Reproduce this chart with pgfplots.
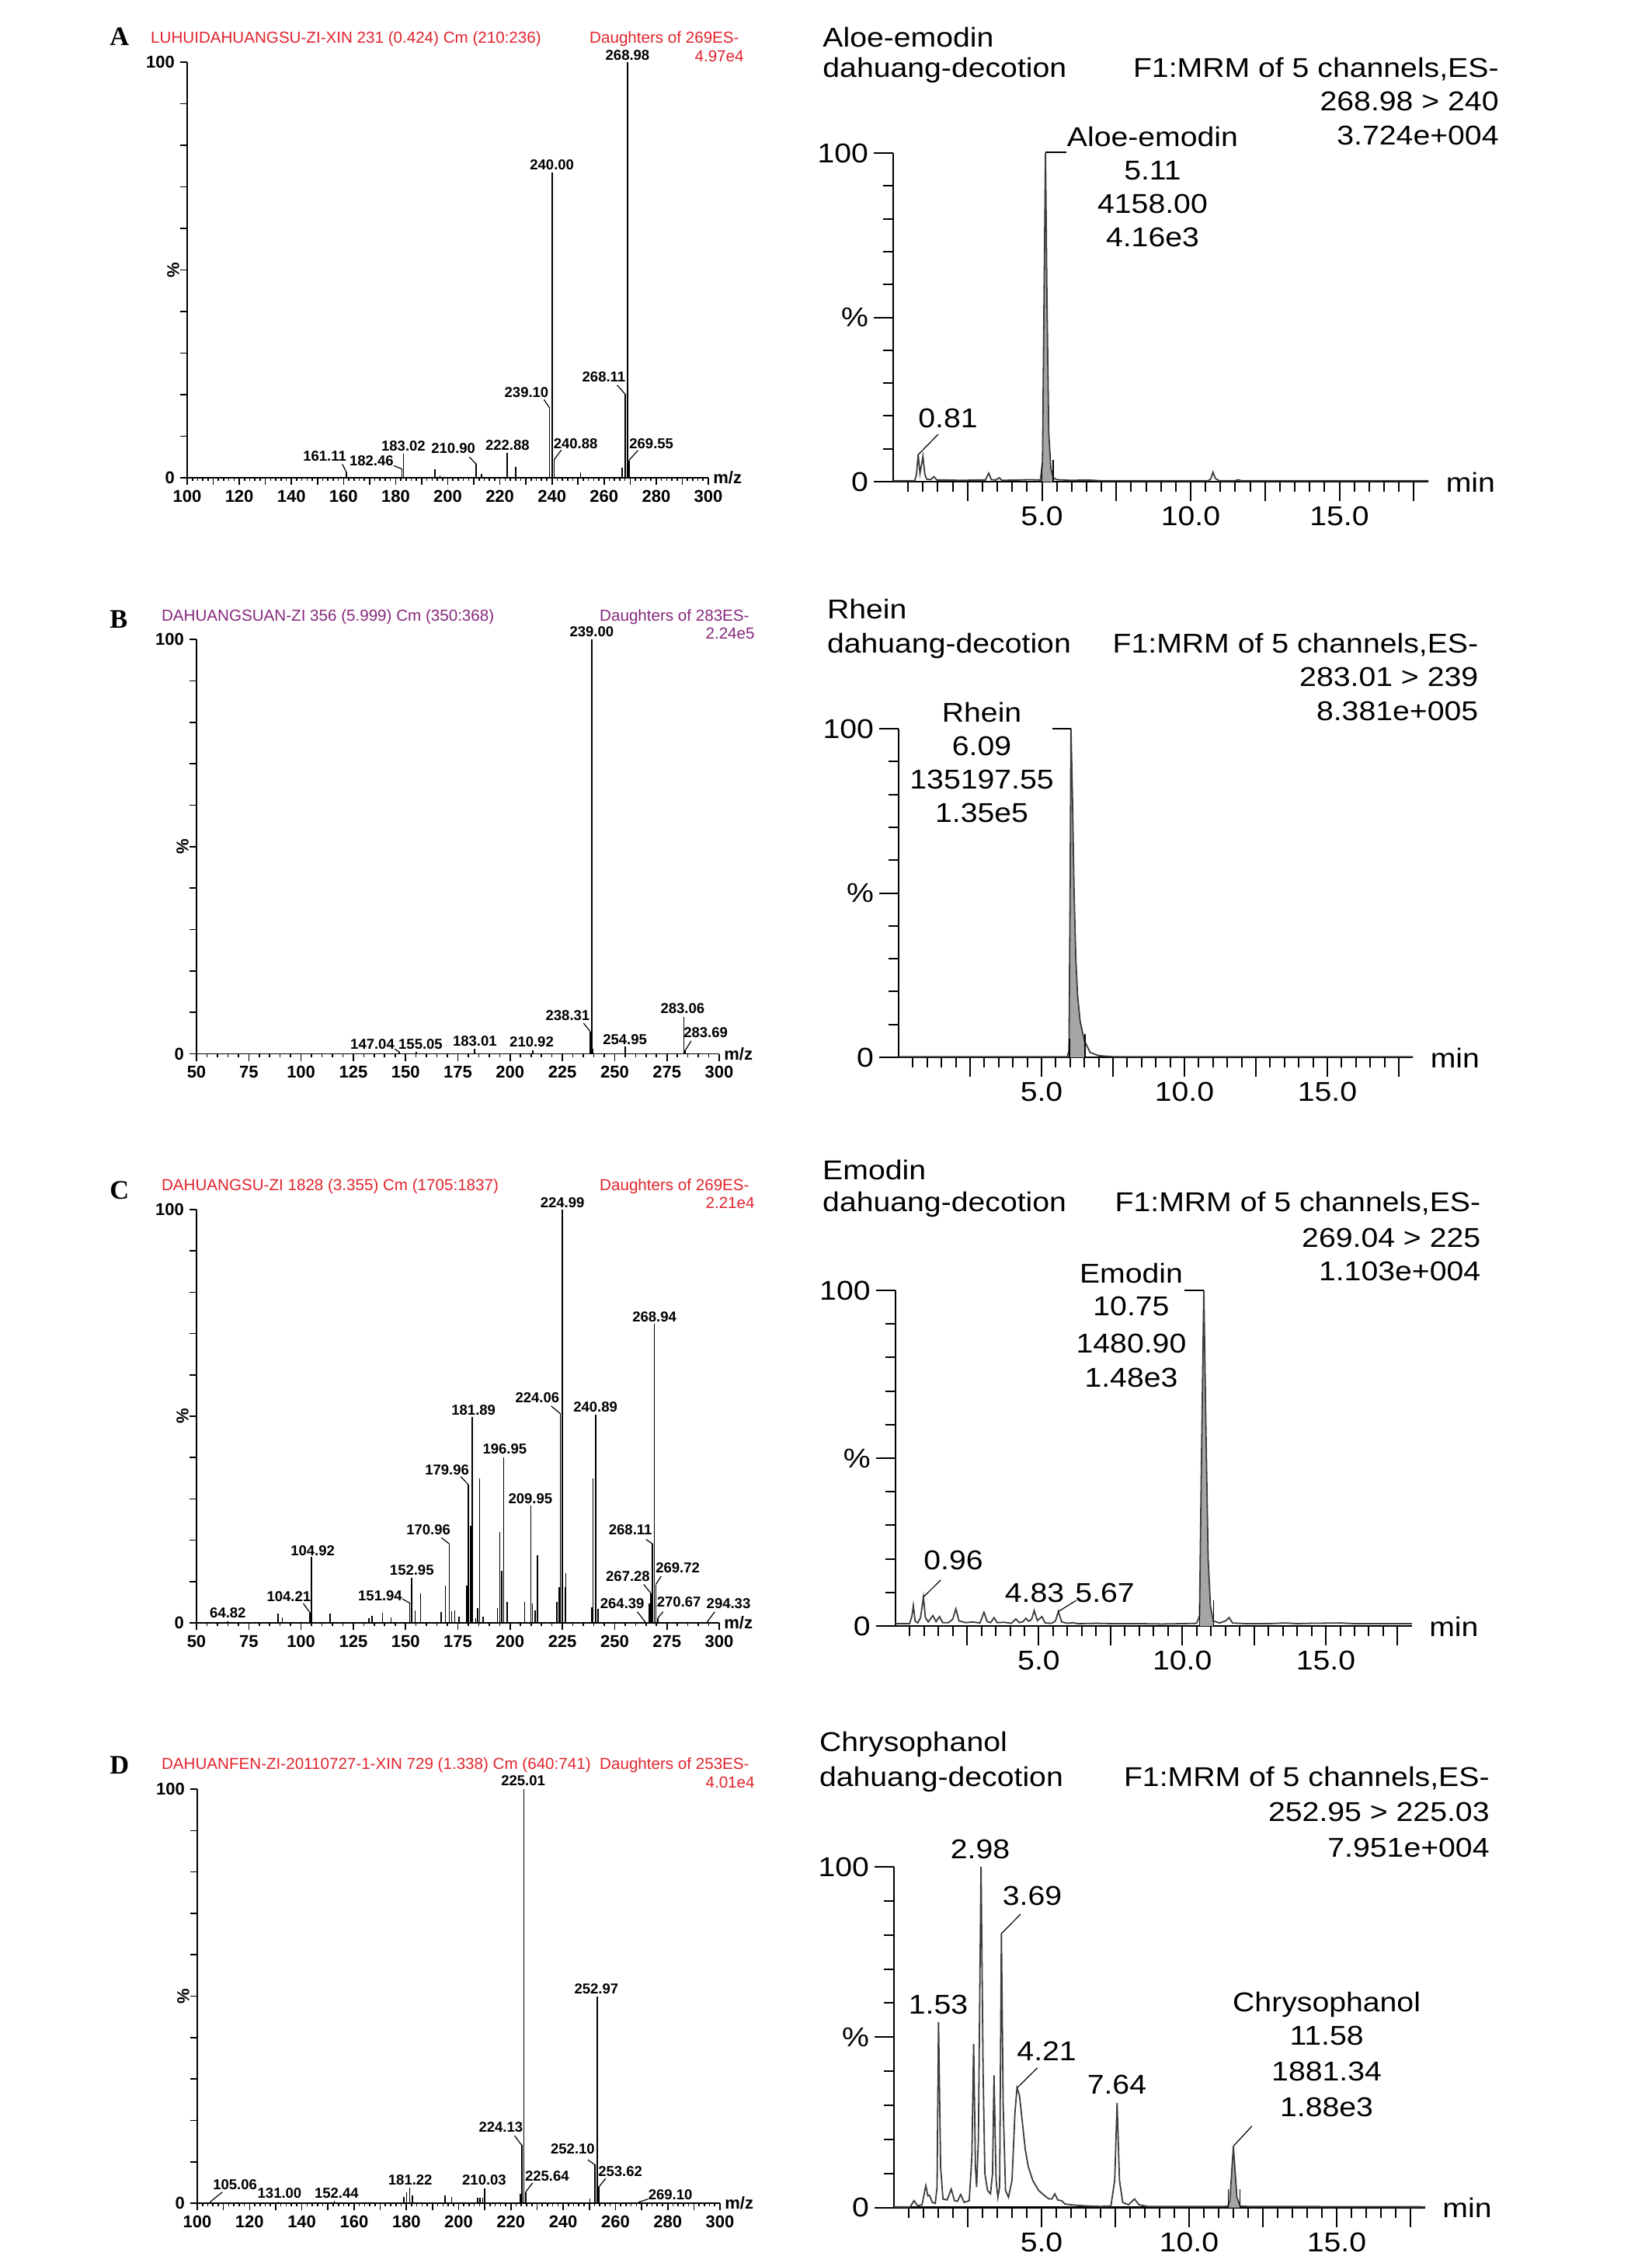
\documentclass[border=0pt]{standalone}
\usepackage{fontspec}
\setmainfont{Liberation Sans}
\newfontfamily\chromf[FakeStretch=1.12]{Liberation Sans}
\newfontfamily\serifb{Liberation Serif}
\usepackage{pgfplots}
\pgfplotsset{compat=1.18}
\definecolor{msred}{RGB}{225,35,45}
\definecolor{mspurple}{RGB}{135,40,125}
\definecolor{tracec}{RGB}{60,60,60}
\definecolor{fillc}{RGB}{165,165,165}
\newcommand\CF{\chromf\fontsize{17.5pt}{21pt}\selectfont}
\newcommand\PL{\bfseries\fontsize{9.25pt}{11pt}\selectfont}
\newcommand\TL{\bfseries\fontsize{11pt}{13pt}\selectfont}
\newcommand\TT{\fontsize{10.3pt}{12pt}\selectfont}
\newcommand\LT{\serifb\bfseries\fontsize{17.2pt}{20pt}\selectfont}
\tikzset{
  pl/.style={font=\PL,inner sep=0pt,anchor=#1},
  cl/.style={font=\CF,inner sep=0pt,anchor=#1},
  tt/.style={font=\TT,inner sep=0pt,anchor=#1},
  ld/.style={line width=0.6pt,black},
}
\pgfplotsset{
  spec/.style={scale only axis, anchor=south west, axis lines=left,
    axis line style={-,line width=0.9pt}, ymin=0, ymax=100, clip=false,
    tick align=outside, major tick length=4.5pt, minor tick length=2pt,
    tick style={line width=0.8pt,black},
    ytick={0,10,...,100}, yticklabels={0,,,,,,,,,,100},
    ticklabel style={font=\TL}},
  chrom/.style={scale only axis, anchor=south west, axis lines=left,
    axis line style={-,line width=1.2pt}, xmin=0, xmax=18, ymin=0, ymax=100, clip=false,
    tick align=outside, major tick length=12.5pt, minor tick length=6.5pt,
    tick style={line width=1pt,black},
    ytick={0,50,100}, yticklabels={0,\%,100}, minor ytick={10,20,30,40,60,70,80,90},
    xtick={2.5,5,...,17.5}, xticklabels={,5.0,,10.0,,15.0,},
    minor xtick={0.5,1,...,17.5},
    ticklabel style={font=\CF}},
  trace/.style={line width=0.9pt, tracec, no marks},
  pkfill/.style={fill=fillc, draw=none, no marks},
  stick/.style={ycomb, line width=0.8pt, black, no marks},
}
\begin{document}
\begin{tikzpicture}
\path[use as bounding box] (0,0) rectangle (1063pt,-1456.5pt);

% ---------------- letters and spectrum titles
\node[font=\LT,inner sep=0pt,anchor=base west] at (70.5pt,-29pt) {A};
\node[font=\LT,inner sep=0pt,anchor=base west] at (70.5pt,-404pt) {B};
\node[font=\LT,inner sep=0pt,anchor=base west] at (70.5pt,-771.5pt) {C};
\node[font=\LT,inner sep=0pt,anchor=base west] at (70.5pt,-1141.5pt) {D};

\node[tt=base west,text=msred] at (96.9pt,-27.75pt) {LUHUIDAHUANGSU-ZI-XIN 231 (0.424) Cm (210:236)};
\node[tt=base east,text=msred] at (476pt,-27.75pt) {Daughters of 269ES-};
\node[tt=base east,text=msred] at (479pt,-39.5pt) {4.97e4};

\node[tt=base west,text=mspurple] at (103.85pt,-399.5pt) {DAHUANGSUAN-ZI 356 (5.999) Cm (350:368)};
\node[tt=base east,text=mspurple] at (482.5pt,-399.5pt) {Daughters of 283ES-};
\node[tt=base east,text=mspurple] at (486pt,-411pt) {2.24e5};

\node[tt=base west,text=msred] at (103.85pt,-766pt) {DAHUANGSU-ZI 1828 (3.355) Cm (1705:1837)};
\node[tt=base east,text=msred] at (482.5pt,-766pt) {Daughters of 269ES-};
\node[tt=base east,text=msred] at (486pt,-777.5pt) {2.21e4};

\node[tt=base west,text=msred] at (103.85pt,-1138.5pt) {DAHUANFEN-ZI-20110727-1-XIN 729 (1.338) Cm (640:741)};
\node[tt=base east,text=msred] at (482.5pt,-1138.5pt) {Daughters of 253ES-};
\node[tt=base east,text=msred] at (486pt,-1150.5pt) {4.01e4};

% ---------------- chromatogram headers
\node[cl=base west] at (529.5pt,-30.1pt) {Aloe-emodin};
\node[cl=base west] at (529.5pt,-49.6pt) {dahuang-decotion};
\node[cl=base east] at (965pt,-49.6pt) {F1:MRM of 5 channels,ES-};
\node[cl=base east] at (965pt,-71.3pt) {268.98 > 240};
\node[cl=base east] at (965pt,-93pt) {3.724e+004};

\node[cl=base west] at (532.3pt,-398.4pt) {Rhein};
\node[cl=base west] at (532.3pt,-420.1pt) {dahuang-decotion};
\node[cl=base east] at (951.8pt,-420.1pt) {F1:MRM of 5 channels,ES-};
\node[cl=base east] at (951.8pt,-441.8pt) {283.01 > 239};
\node[cl=base east] at (951.8pt,-463.5pt) {8.381e+005};

\node[cl=base west] at (529.4pt,-759.1pt) {Emodin};
\node[cl=base west] at (529.4pt,-779.7pt) {dahuang-decotion};
\node[cl=base east] at (953.3pt,-779.7pt) {F1:MRM of 5 channels,ES-};
\node[cl=base east] at (953.3pt,-802.5pt) {269.04 > 225};
\node[cl=base east] at (953.3pt,-824.2pt) {1.103e+004};

\node[cl=base west] at (527.3pt,-1127pt) {Chrysophanol};
\node[cl=base west] at (527.3pt,-1149.7pt) {dahuang-decotion};
\node[cl=base east] at (959pt,-1149.7pt) {F1:MRM of 5 channels,ES-};
\node[cl=base east] at (959pt,-1172.4pt) {252.95 > 225.03};
\node[cl=base east] at (959pt,-1195.2pt) {7.951e+004};

% ================= A spectrum
\begin{axis}[spec, at={(120.5pt,-307.5pt)}, width=335.5pt, height=267.5pt,
  xmin=100, xmax=300, xtick={100,110,...,300},
  xticklabels={100,,120,,140,,160,,180,,200,,220,,240,,260,,280,,300},
  minor xtick={102,104,...,298}]
\addplot[stick] coordinates {(161.11,1.3) (182.46,2.1) (183.02,5.8) (195,2.1) (197,0.6)
  (210.90,3.3) (213,0.9) (222.88,6.0) (226,2.7) (239.10,16.8) (240.00,73.5) (240.88,4.4)
  (251,1.3) (267,2.5) (268.11,20.1) (268.98,100) (269.55,4.2)};
\node[pl=base] at (axis cs:269,100.5) {268.98};
\node[pl=base] at (axis cs:240,74.2) {240.00};
\node[pl=base east] at (axis cs:238.8,19.4) {239.10};
\draw[ld] (axis cs:236.9,18.8) -- (axis cs:239.10,16.8);
\node[pl=base east] at (axis cs:268.3,23) {268.11};
\draw[ld] (axis cs:265,22.3) -- (axis cs:268.11,20.1);
\node[pl=base west] at (axis cs:240.5,7.1) {240.88};
\draw[ld] (axis cs:243.6,6.7) -- (axis cs:240.88,4.4);
\node[pl=base west] at (axis cs:269.6,7.0) {269.55};
\draw[ld] (axis cs:273,6.6) -- (axis cs:269.55,4.2);
\node[pl=base] at (axis cs:222.9,6.6) {222.88};
\node[pl=base east] at (axis cs:210.7,5.8) {210.90};
\draw[ld] (axis cs:208.3,5.0) -- (axis cs:210.90,3.3);
\node[pl=base] at (axis cs:183,6.4) {183.02};
\node[pl=base east] at (axis cs:179.3,2.9) {182.46};
\draw[ld] (axis cs:179.3,2.9) -- (axis cs:182.46,2.1);
\node[pl=base east] at (axis cs:161.2,4.0) {161.11};
\draw[ld] (axis cs:159.5,3.3) -- (axis cs:161.11,1.3);
\node[font=\TL,inner sep=0pt,rotate=90,xshift=0pt,yshift=9pt] at (rel axis cs:0,0.5) {\%};
\node[font=\TL,inner sep=0pt,anchor=west,xshift=3pt] at (rel axis cs:1,0) {m/z};
\end{axis}

% ================= A chromatogram
\begin{axis}[chrom, at={(575pt,-310pt)}, width=344.7pt, height=211.5pt]
\addplot[pkfill] coordinates {(4.99,0.5) (5.02,6) (5.07,55) (5.12,100) (5.17,55) (5.23,15) (5.3,4) (5.38,1.2)} \closedcycle;
\addplot[trace] coordinates {(0,0.3) (0.72,0.3) (0.78,2) (0.84,8.2) (0.9,2.5) (0.95,5) (1.0,7.7)
  (1.06,2.5) (1.12,0.8) (1.25,0.6) (1.37,1.5) (1.47,0.5) (1.8,0.5) (2.3,0.4) (2.8,0.5) (3.1,0.5)
  (3.21,2.6) (3.3,0.6) (3.45,0.5) (3.56,1.2) (3.66,0.4) (4.2,0.5) (4.6,0.6) (4.95,0.5) (5.02,6)
  (5.07,55) (5.12,100) (5.17,55) (5.23,15) (5.3,4) (5.38,1.2) (5.5,0.6) (6.0,0.4) (6.5,0.5) (7,0.3)
  (10.6,0.3) (10.68,1) (10.75,2.9) (10.83,1) (10.95,0.3) (11.5,0.3) (11.6,0.6) (11.7,0.3) (18,0.3)};
\draw[ld] (axis cs:4.99,0) -- (axis cs:4.99,5.6);
\draw[ld] (axis cs:5.38,0) -- (axis cs:5.38,6.7);
\draw[line width=0.8pt] (axis cs:5.12,100.3) -- (axis cs:5.82,100.3);
\node[cl=base] at (axis cs:8.72,102.1) {Aloe-emodin};
\node[cl=base] at (axis cs:8.72,91.8) {5.11};
\node[cl=base] at (axis cs:8.72,81.6) {4158.00};
\node[cl=base] at (axis cs:8.72,71.4) {4.16e3};
\node[cl=base west] at (axis cs:0.835,16.5) {0.81};
\draw[ld] (axis cs:0.84,8.2) -- (axis cs:1.51,14.4);
\node[cl=base west,xshift=11pt,yshift=-6.5pt] at (axis cs:18,0) {min};
\end{axis}

% ================= B spectrum
\begin{axis}[spec, at={(126.5pt,-678.25pt)}, width=336.5pt, height=266.75pt,
  xmin=50, xmax=300, xtick={50,75,...,300},
  xticklabels={50,75,100,125,150,175,200,225,250,275,300},
  minor xtick={55,60,...,295}]
\addplot[stick] coordinates {(147.04,0.4) (155.05,0.5) (183.01,1.2) (210.92,0.8) (238.31,5.4)
  (239.00,100) (239.7,1.2) (254.95,1.8) (283.06,8.9) (283.69,0.8)};
\node[pl=base] at (axis cs:239,100.6) {239.00};
\node[pl=base east] at (axis cs:238.2,8.0) {238.31};
\draw[ld] (axis cs:235.1,7.4) -- (axis cs:238.31,5.4);
\node[pl=base] at (axis cs:282.5,9.7) {283.06};
\node[pl=base west] at (axis cs:282.9,3.9) {283.69};
\draw[ld] (axis cs:286.6,3.1) -- (axis cs:283.69,0.8);
\node[pl=base] at (axis cs:254.9,2.3) {254.95};
\node[pl=base] at (axis cs:210.3,1.6) {210.92};
\node[pl=base] at (axis cs:183.1,1.9) {183.01};
\node[pl=base east] at (axis cs:144.8,1.2) {147.04};
\draw[ld] (axis cs:144.8,1.2) -- (axis cs:147.04,0.4);
\node[pl=base west] at (axis cs:146.5,1.2) {155.05};
\node[font=\TL,inner sep=0pt,rotate=90,yshift=9pt] at (rel axis cs:0,0.5) {\%};
\node[font=\TL,inner sep=0pt,anchor=west,xshift=3pt] at (rel axis cs:1,0) {m/z};
\end{axis}

% ================= B chromatogram
\begin{axis}[chrom, at={(578.5pt,-680.5pt)}, width=331.2pt, height=211.5pt]
\addplot[pkfill] coordinates {(5.96,2) (6.0,50) (6.03,100) (6.08,80) (6.14,50) (6.2,30) (6.26,19) (6.35,11) (6.5,5) (6.52,4.6)} \closedcycle;
\addplot[trace] coordinates {(0,0.2) (3,0.2) (5.9,0.2) (5.96,2) (6.0,50) (6.03,100) (6.08,80)
  (6.14,50) (6.2,30) (6.26,19) (6.35,11) (6.5,5) (6.7,1.5) (7.0,0.5) (7.5,0.2) (18,0.2)};
\draw[ld] (axis cs:5.98,0) -- (axis cs:5.98,5.7);
\draw[ld] (axis cs:6.52,0) -- (axis cs:6.52,7);
\draw[line width=0.8pt] (axis cs:5.38,100) -- (axis cs:6.03,100);
\node[cl=base] at (axis cs:2.91,102.1) {Rhein};
\node[cl=base] at (axis cs:2.91,91.8) {6.09};
\node[cl=base] at (axis cs:2.91,81.6) {135197.55};
\node[cl=base] at (axis cs:2.91,71.4) {1.35e5};
\node[cl=base west,xshift=11pt,yshift=-6.5pt] at (axis cs:18,0) {min};
\end{axis}

% ================= C spectrum
\begin{axis}[spec, at={(126.5pt,-1044.5pt)}, width=336.5pt, height=266pt,
  xmin=50, xmax=300, xtick={50,75,...,300},
  xticklabels={50,75,100,125,150,175,200,225,250,275,300},
  minor xtick={55,60,...,295}]
\addplot[stick] coordinates {(64.82,0.4) (89,2.2) (91,1.3) (104.21,2.5) (104.92,16) (114,2.2)
  (132.5,1.2) (134,1.7) (139,2.5) (143,1.4) (151.94,4.8) (152.95,11) (154.5,3) (157.2,7.2)
  (167,2.7) (169.1,9) (170.96,19.1) (172,2.8) (173.5,3) (175.5,1.5) (179.2,9) (179.96,33.5)
  (181.1,23.5) (181.89,49.8) (183.5,1.2) (184.5,3.5) (185.4,35) (187,1.5) (194,3.5) (195.0,22)
  (195.9,12.6) (196.95,40.1) (198.5,5) (207,5) (209.95,28.4) (210.6,4.7) (212,3) (213,16.3)
  (222.3,5) (223.5,8.6) (224.06,50.6) (224.99,100) (226.2,8.6) (226.6,12) (239,3.7) (239.6,35)
  (240.89,50.4) (242,3.3) (264.39,0.4) (266.5,4.7) (267.28,7.2) (268.11,19.1) (268.94,72.4)
  (269.72,9.3) (270.67,1.2) (294.33,0.3)};
\node[pl=base] at (axis cs:225,100.5) {224.99};
\node[pl=base] at (axis cs:269,72.8) {268.94};
\node[pl=base east] at (axis cs:223.7,53.3) {224.06};
\draw[ld] (axis cs:219.6,52.5) -- (axis cs:224.06,50.6);
\node[pl=base] at (axis cs:240.8,51) {240.89};
\node[pl=base] at (axis cs:182.5,50.2) {181.89};
\node[pl=base] at (axis cs:197.4,40.9) {196.95};
\node[pl=base east] at (axis cs:180.5,35.8) {179.96};
\draw[ld] (axis cs:176.3,35.4) -- (axis cs:179.96,33.5);
\node[pl=base] at (axis cs:209.7,28.9) {209.95};
\node[pl=base east] at (axis cs:171.6,21.4) {170.96};
\draw[ld] (axis cs:167.1,20.6) -- (axis cs:170.96,19.1);
\node[pl=base east] at (axis cs:268,21.4) {268.11};
\draw[ld] (axis cs:265,20.2) -- (axis cs:268.11,19.1);
\node[pl=base] at (axis cs:105.6,16.3) {104.92};
\node[pl=base] at (axis cs:153,11.5) {152.95};
\node[pl=base east] at (axis cs:267,10.1) {267.28};
\draw[ld] (axis cs:263.9,9.3) -- (axis cs:267.28,7.2);
\node[pl=base west] at (axis cs:269.5,12.1) {269.72};
\draw[ld] (axis cs:272.2,11.3) -- (axis cs:269.72,9.3);
\node[pl=base east] at (axis cs:104.8,5.1) {104.21};
\draw[ld] (axis cs:101.1,4.7) -- (axis cs:104.21,2.5);
\node[pl=base east] at (axis cs:148.5,5.4) {151.94};
\draw[ld] (axis cs:148.5,5.8) -- (axis cs:151.94,4.8);
\node[pl=base east] at (axis cs:264.3,3.5) {264.39};
\draw[ld] (axis cs:260.8,2.7) -- (axis cs:264.39,0.4);
\node[pl=base west] at (axis cs:270.1,3.9) {270.67};
\draw[ld] (axis cs:273.2,2.7) -- (axis cs:270.67,1.2);
\node[pl=base west] at (axis cs:293.8,3.5) {294.33};
\draw[ld] (axis cs:297.9,2.7) -- (axis cs:294.33,0.3);
\node[pl=base] at (axis cs:65,1.2) {64.82};
\node[font=\TL,inner sep=0pt,rotate=90,yshift=9pt] at (rel axis cs:0,0.5) {\%};
\node[font=\TL,inner sep=0pt,anchor=west,xshift=3pt] at (rel axis cs:1,0) {m/z};
\end{axis}

% ================= C chromatogram
\begin{axis}[chrom, at={(576.35pt,-1046.5pt)}, width=332.6pt, height=216pt]
\addplot[pkfill] coordinates {(10.6,3) (10.66,45) (10.75,100) (10.82,60) (10.9,20) (10.98,6) (11.08,1.5)} \closedcycle;
\addplot[trace] coordinates {(0,0.7) (0.5,0.7) (0.58,3) (0.63,6.1) (0.69,1.5) (0.78,0.9) (0.88,2.5)
  (0.98,8.6) (1.05,2.5) (1.15,1.2) (1.31,3.1) (1.42,1.3) (1.54,2.8) (1.65,1) (1.85,1) (2.0,2)
  (2.11,5.1) (2.22,1.5) (2.45,1) (2.7,1.2) (2.95,0.9) (3.09,4.1) (3.2,1.3) (3.32,1) (3.44,2.5)
  (3.55,1) (3.8,1.1) (4.05,0.8) (4.2,2.1) (4.32,1) (4.45,1.3) (4.55,2.3) (4.65,1.4) (4.75,2)
  (4.84,4.6) (4.95,1.6) (5.11,2.8) (5.22,0.9) (5.45,0.8) (5.58,1.5) (5.68,4.3) (5.8,1.2) (6.0,0.8)
  (6.19,1.0) (6.35,0.7) (7,0.8) (7.6,0.7) (8.5,0.7) (9.3,0.6) (10.0,0.7) (10.5,0.8) (10.6,3)
  (10.66,45) (10.75,100) (10.82,60) (10.9,20) (10.98,6) (11.08,1.5) (11.3,0.9) (11.5,1.5)
  (11.63,2.5) (11.75,0.9) (12.2,0.7) (13,0.7) (13.6,0.9) (14,0.7) (14.5,0.8) (15.5,0.9) (16,0.7)
  (17,0.7) (18,0.7)};
\draw[ld] (axis cs:10.6,0) -- (axis cs:10.6,6.5);
\draw[ld] (axis cs:11.08,0) -- (axis cs:11.08,7.7);
\draw[line width=0.8pt] (axis cs:10.07,100) -- (axis cs:10.75,100);
\node[cl=base] at (axis cs:8.22,102.3) {Emodin};
\node[cl=base] at (axis cs:8.22,92.4) {10.75};
\node[cl=base] at (axis cs:8.22,81.4) {1480.90};
\node[cl=base] at (axis cs:8.22,71.3) {1.48e3};
\node[cl=base west] at (axis cs:0.98,16.7) {0.96};
\draw[ld] (axis cs:0.98,8.6) -- (axis cs:1.58,13.7);
\node[cl=base west] at (axis cs:3.81,7.1) {4.83};
\node[cl=base west] at (axis cs:6.26,7.1) {5.67};
\draw[ld] (axis cs:5.68,4.3) -- (axis cs:6.3,7.6);
\node[cl=base west,xshift=11pt,yshift=-6.5pt] at (axis cs:18,0) {min};
\end{axis}

% ================= D spectrum
\begin{axis}[spec, at={(127pt,-1418pt)}, width=336.5pt, height=266.5pt,
  xmin=100, xmax=300, xtick={100,110,...,300},
  xticklabels={100,,120,,140,,160,,180,,200,,220,,240,,260,,280,,300},
  minor xtick={102,104,...,298}]
\addplot[stick] coordinates {(105.06,0.4) (131.00,0.3) (152.44,0.5) (179.1,1.6) (180.1,2.7)
  (181.22,3.7) (182.4,1.9) (194.8,1.9) (197.3,1.6) (207.2,1.3) (208.2,1.3) (209.2,1.3)
  (210.03,3.5) (223.7,2.3) (224.13,14.0) (225.01,100) (225.64,2.7) (250.2,1.2) (252.10,9.3)
  (252.97,50) (253.62,3.9) (269.10,0.3)};
\node[pl=base] at (axis cs:224.7,100.8) {225.01};
\node[pl=base] at (axis cs:252.7,50.6) {252.97};
\node[pl=base east] at (axis cs:224.7,17.1) {224.13};
\draw[ld] (axis cs:221.4,16.3) -- (axis cs:224.13,14);
\node[pl=base east] at (axis cs:252.2,11.9) {252.10};
\draw[ld] (axis cs:249.4,10.5) -- (axis cs:252.10,9.3);
\node[pl=base west] at (axis cs:253.3,6.5) {253.62};
\draw[ld] (axis cs:256.3,6) -- (axis cs:253.62,3.9);
\node[pl=base west] at (axis cs:225.3,5.4) {225.64};
\draw[ld] (axis cs:228.3,4.9) -- (axis cs:225.64,2.7);
\node[pl=base] at (axis cs:181.5,4.4) {181.22};
\node[pl=base] at (axis cs:209.8,4.4) {210.03};
\node[pl=base west] at (axis cs:105.9,3.3) {105.06};
\draw[ld] (axis cs:109.6,2.7) -- (axis cs:105.06,0.4);
\node[pl=base] at (axis cs:131.5,1.2) {131.00};
\node[pl=base] at (axis cs:153.3,1.2) {152.44};
\node[pl=base west] at (axis cs:272.5,0.8) {269.10};
\draw[ld] (axis cs:272.5,1) -- (axis cs:269.10,0.3);
\node[font=\TL,inner sep=0pt,rotate=90,yshift=9pt] at (rel axis cs:0,0.5) {\%};
\node[font=\TL,inner sep=0pt,anchor=west,xshift=3pt] at (rel axis cs:1,0) {m/z};
\end{axis}

% ================= D chromatogram
\begin{axis}[chrom, at={(575.5pt,-1420.75pt)}, width=342pt, height=219.25pt]
\addplot[pkfill] coordinates {(11.32,0.4) (11.38,2) (11.5,18) (11.62,3) (11.73,0.4)} \closedcycle;
\addplot[trace] coordinates {(0,0.2) (0.55,0.2) (0.68,2) (0.8,0.5) (0.95,0.8) (1.08,6.4) (1.15,3.4)
  (1.2,3.6) (1.3,1.5) (1.4,1.2) (1.46,6) (1.51,54.4) (1.58,12) (1.66,2.5) (1.8,2.2) (1.94,5.4)
  (2.05,2) (2.15,1.8) (2.26,3.8) (2.38,1.5) (2.55,2) (2.64,15) (2.7,48) (2.76,12) (2.8,6) (2.86,20)
  (2.95,100) (3.02,40) (3.08,10) (3.17,5) (3.27,4) (3.34,10) (3.39,38.8) (3.46,8) (3.52,3) (3.58,6)
  (3.64,80.4) (3.7,30) (3.78,5) (3.88,3) (4.0,8) (4.1,28) (4.17,35.1) (4.25,33) (4.35,25) (4.45,17)
  (4.55,12) (4.7,8) (4.9,5) (5.1,3.5) (5.25,2.5) (5.35,2.5) (5.45,4) (5.55,2.2) (5.68,2) (5.8,1)
  (6.0,0.8) (6.4,0.5) (7.0,0.3) (7.35,0.4) (7.48,8) (7.56,30.7) (7.64,8) (7.75,1.5) (7.95,0.8)
  (8.15,2.5) (8.3,0.8) (8.6,0.3) (11.2,0.3) (11.32,0.4) (11.38,2) (11.5,18) (11.62,3) (11.73,0.4)
  (12,0.3) (18,0.2)};
\draw[ld] (axis cs:11.32,0) -- (axis cs:11.32,5.4);
\draw[ld] (axis cs:11.73,0) -- (axis cs:11.73,5.4);
\node[cl=base] at (axis cs:2.92,102.4) {2.98};
\node[cl=base west] at (axis cs:3.67,88.8) {3.69};
\draw[ld] (axis cs:3.64,80.4) -- (axis cs:4.29,86.1);
\node[cl=base] at (axis cs:1.5,56.9) {1.53};
\node[cl=base west] at (axis cs:4.16,43) {4.21};
\draw[ld] (axis cs:4.17,35.1) -- (axis cs:4.86,41);
\node[cl=base] at (axis cs:7.55,33.2) {7.64};
\node[cl=base] at (axis cs:14.66,57.4) {Chrysophanol};
\node[cl=base] at (axis cs:14.66,47.6) {11.58};
\node[cl=base] at (axis cs:14.66,37.1) {1881.34};
\node[cl=base] at (axis cs:14.66,26.8) {1.88e3};
\draw[ld] (axis cs:11.5,18) -- (axis cs:12.13,23.9);
\node[cl=base west,xshift=11pt,yshift=-6.5pt] at (axis cs:18,0) {min};
\end{axis}
\end{tikzpicture}
\end{document}
